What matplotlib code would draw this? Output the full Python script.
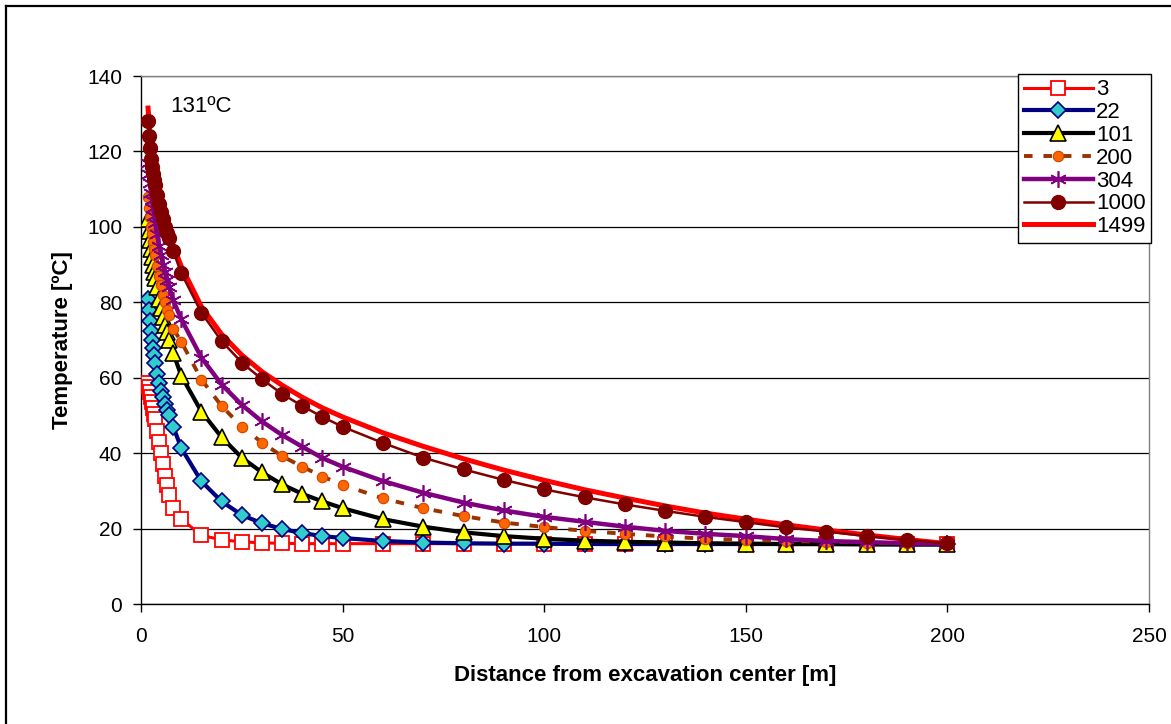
import matplotlib
matplotlib.use('Agg')
import matplotlib.pyplot as plt
from matplotlib.lines import Line2D

plt.rcParams['font.family'] = ['Liberation Sans', 'DejaVu Sans']

# distances from excavation center [m]
dist = [1.75, 2, 2.25, 2.5, 2.75, 3, 3.25, 3.5, 4, 4.5, 5, 5.5, 6, 6.5, 7, 8,
        10, 15, 20, 25, 30, 35, 40, 45, 50,
        60, 70, 80, 90, 100, 110, 120, 130, 140, 150, 160, 170, 180, 190, 200]

# temperatures [ºC] for each time label
t3 = [58.5, 57.5, 56.3, 55, 53.5, 52, 50.5, 49, 46, 43, 40, 37, 34, 31.5, 29, 25.5,
      22.5, 18.2, 17, 16.5, 16.2, 16.1, 16, 16, 16,
      16, 16, 16, 16, 15.9, 15.9, 15.9, 15.9, 15.9, 15.9, 15.9, 15.9, 15.9, 15.9, 15.8]
t22 = [81, 78, 75, 72.5, 70, 68, 66, 64, 61, 58.5, 56.5, 55, 53, 51.5, 50, 47,
       41.3, 32.5, 27.2, 23.6, 21.4, 19.9, 18.8, 18, 17.5,
       16.7, 16.3, 16.1, 16, 16, 15.9, 15.9, 15.9, 15.9, 15.9, 15.9, 15.9, 15.9, 15.8, 15.8]
t101 = [102, 99, 96.5, 94, 92, 90, 88, 86.5, 84, 81, 78.5, 76, 74, 72, 70, 66.5,
        60.5, 51, 44.2, 38.8, 34.9, 31.7, 29.2, 27.2, 25.4,
        22.5, 20.5, 19, 18, 17.3, 16.8, 16.5, 16.3, 16.1, 16, 15.9, 15.9, 15.8, 15.8, 15.8]
t200 = [108, 105, 102.5, 100, 98, 96, 94, 92.5, 89.5, 87, 84.5, 82, 80, 78, 76.5, 73,
        69.5, 59.5, 52.5, 47, 42.8, 39.2, 36.4, 33.8, 31.6,
        28, 25.4, 23.3, 21.6, 20.4, 19.4, 18.6, 17.9, 17.3, 17, 16.7, 16.5, 16.3, 16.1, 16]
t304 = [117, 114, 111.5, 109, 107, 105, 103, 101, 98, 95, 92.5, 90, 88, 86, 84, 80.5,
        75.5, 65.3, 58.2, 52.8, 48.4, 44.8, 41.7, 38.7, 36.4,
        32.6, 29.5, 26.9, 24.8, 23.1, 21.8, 20.5, 19.4, 18.6, 18, 17.2, 16.7, 16.4, 16.1, 16]
t1000 = [128, 124, 121, 118, 116, 114, 112.5, 111, 108.5, 106, 104, 102, 100, 98.5, 97, 93.5,
         87.7, 77.2, 69.7, 64, 59.6, 55.7, 52.5, 49.6, 47,
         42.7, 38.8, 35.7, 32.9, 30.4, 28.3, 26.4, 24.7, 23.1, 21.7, 20.3, 19.2, 18, 17, 16.1]
t1499 = [131.5, 127.5, 124, 121, 118.5, 116.5, 114.5, 112.5, 110, 107.5, 105.5, 103.5, 101.5, 100, 98.5, 95,
         89.5, 78.8, 71.5, 66, 61.6, 58, 54.8, 52, 49.6,
         45.4, 41.8, 38.5, 35.5, 32.8, 30.3, 28.1, 26, 24.1, 22.5, 21, 19.6, 18.3, 17.1, 16]

labels = ['3', '22', '101', '200', '304', '1000', '1499']
peak_label = '131ºC'

fig = plt.figure(figsize=(11.71, 7.24), dpi=100)
ax = fig.add_axes([141 / 1171, 1 - 604 / 724, (1149 - 141) / 1171, (604 - 76) / 724])

ax.plot(dist, t1499, color='#FF0000', lw=3.6, zorder=2, label=labels[6])
ax.plot(dist, t3, color='#FF0000', lw=2.2, marker='s', ms=10, mfc='white', mec='#FF0000',
        mew=1.3, zorder=3, label=labels[0])
ax.plot(dist, t22, color='#000080', lw=3, marker='D', ms=8.5, mfc='#33CCCC', mec='#000080',
        mew=1.2, zorder=3, label=labels[1])
ax.plot(dist, t101, color='black', lw=3, marker='^', ms=11, mfc='#FFFF00', mec='black',
        mew=1.2, zorder=3, label=labels[2])
ax.plot(dist, t200, color='#993300', lw=2.8, ls=(0, (2.2, 2.8)), marker='o', ms=7.5,
        mfc='#FF6600', mec='#CC4400', mew=0.8, zorder=3, label=labels[3])
ax.plot(dist, t304, color='#800080', lw=3.2, marker=(6, 2, 0), ms=12, mec='#800080',
        mew=1.2, zorder=3, label=labels[4])
ax.plot(dist, t1000, color='#800000', lw=1.8, marker='o', ms=10, mfc='#800000', mec='#800000',
        zorder=3, label=labels[5])

ax.set_xlim(0, 250)
ax.set_ylim(0, 140)
ax.set_xticks(range(0, 251, 50))
ax.set_yticks(range(0, 141, 20))
ax.yaxis.grid(True, color='black', lw=0.9)
ax.set_axisbelow(True)
ax.tick_params(direction='out', length=5.5, width=1, labelsize=15, color='black')
ax.tick_params(axis='x', pad=11)
ax.tick_params(axis='y', pad=8)
for side in ['top', 'right']:
    ax.spines[side].set_color('#808080')
    ax.spines[side].set_linewidth(1)
for side in ['left', 'bottom']:
    ax.spines[side].set_color('black')
    ax.spines[side].set_linewidth(1)

ax.set_xlabel('Distance from excavation center [m]', fontsize=16, fontweight='bold', labelpad=14)
ax.set_ylabel('Temperature [ºC]', fontsize=16, fontweight='bold', labelpad=10)

ax.text(7.2, 131.8, peak_label, fontsize=16, ha='left', va='center')

handles, lbls = ax.get_legend_handles_labels()
order = [1, 2, 3, 4, 5, 6, 0]
leg = ax.legend([handles[i] for i in order], [lbls[i] for i in order],
                loc='upper right', bbox_to_anchor=(1.002, 1.004), fontsize=16,
                frameon=True, fancybox=False, edgecolor='black', framealpha=1,
                handlelength=3.1, handletextpad=0.15, labelspacing=0.08,
                borderpad=0.25, borderaxespad=0)
leg.get_frame().set_linewidth(1)

# chart area border (left and top edges visible)
fig.add_artist(Line2D([6 / 1171, 6 / 1171], [0, 1 - 6 / 724], color='black', lw=1.6,
                      transform=fig.transFigure))
fig.add_artist(Line2D([6 / 1171, 1], [1 - 6 / 724, 1 - 6 / 724], color='black', lw=1.6,
                      transform=fig.transFigure))

fig.savefig('out.png', dpi=100)
